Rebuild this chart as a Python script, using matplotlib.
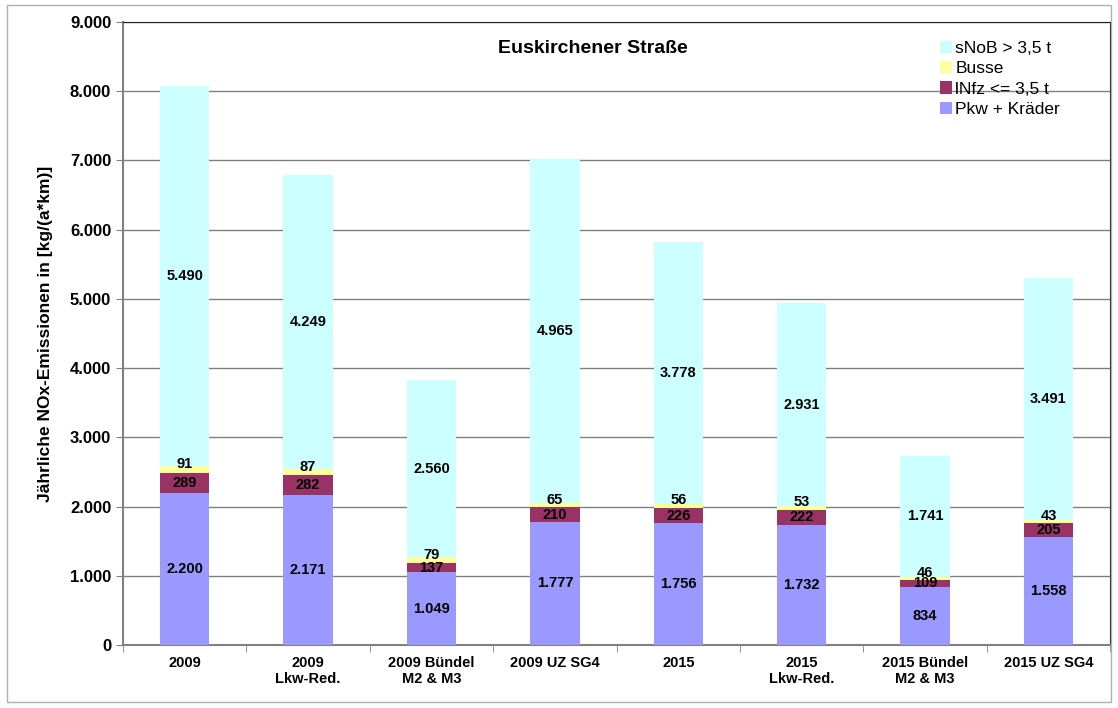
import numpy as np
import matplotlib
matplotlib.use("Agg")
import matplotlib.pyplot as plt
from matplotlib.patches import Rectangle
from matplotlib.ticker import FuncFormatter

plt.rcParams['font.family'] = ['Liberation Sans', 'DejaVu Sans']

# Data
categories = ["2009", "2009\nLkw-Red.", "2009 Bündel\nM2 & M3", "2009 UZ SG4",
              "2015", "2015\nLkw-Red.", "2015 Bündel\nM2 & M3", "2015 UZ SG4"]
pkw = [2200, 2171, 1049, 1777, 1756, 1732, 834, 1558]
lnfz = [289, 282, 137, 210, 226, 222, 109, 205]
busse = [91, 87, 79, 65, 56, 53, 46, 43]
snob = [5490, 4249, 2560, 4965, 3778, 2931, 1741, 3491]

series = [
    ("Pkw + Kräder", pkw, "#9999FF"),
    ("lNfz <= 3,5 t", lnfz, "#993366"),
    ("Busse", busse, "#FFFF99"),
    ("sNoB > 3,5 t", snob, "#CCFFFF"),
]


def de_fmt(v):
    return f"{int(v):,}".replace(",", ".")


fig = plt.figure(figsize=(11.18, 7.08), dpi=100)
ax = fig.add_axes([0.110, 0.089, 0.883, 0.880])

x = np.arange(len(categories))
bottom = np.zeros(len(categories))
handles = []
for name, vals, color in series:
    vals = np.array(vals, dtype=float)
    bars = ax.bar(x, vals, 0.4, bottom=bottom, color=color, label=name, zorder=3)
    handles.append(bars)
    # thin bus segment: lift its label a bit so it sits above the lNfz label
    dy = 4 if name == "Busse" else 0
    for xi, b, v in zip(x, bottom, vals):
        ax.annotate(de_fmt(v), (xi, b + v / 2), xytext=(0, dy),
                    textcoords="offset points", ha="center", va="center",
                    fontsize=10.5, fontweight="bold", zorder=4)
    bottom += vals

ax.set_xlim(-0.5, len(categories) - 0.5)
ax.set_ylim(0, 9000)
ax.set_yticks(np.arange(0, 9001, 1000))
ax.yaxis.set_major_formatter(FuncFormatter(lambda v, p: de_fmt(v)))
ax.set_xticks(x)
ax.set_xticklabels(categories, fontsize=10.5, fontweight="bold")
ax.set_xticks(np.arange(-0.5, len(categories), 1), minor=True)
ax.tick_params(axis="x", which="major", length=0, pad=8)
ax.tick_params(axis="x", which="minor", length=5, direction="out", color="#808080")
ax.tick_params(axis="y", length=5, direction="out", color="#808080", labelsize=12)
for lab in ax.get_yticklabels():
    lab.set_fontweight("bold")
ax.grid(axis="y", color="#808080", linewidth=1, zorder=0)

ax.spines["left"].set_color("#808080")
ax.spines["bottom"].set_color("#808080")
ax.spines["left"].set_linewidth(1.5)
ax.spines["bottom"].set_linewidth(1.5)
ax.spines["top"].set_color("#222222")
ax.spines["right"].set_color("#222222")

ax.set_ylabel("Jährliche NOx-Emissionen in [kg/(a*km)]", fontsize=12.5,
              fontweight="bold", labelpad=12)

ax.text(0.476, 0.958, "Euskirchener Straße", transform=ax.transAxes,
        ha="center", va="center", fontsize=14, fontweight="bold")

ax.legend(handles[::-1], [s[0] for s in series][::-1], loc="upper right",
          bbox_to_anchor=(0.965, 0.995), frameon=False, fontsize=12.5,
          handlelength=0.7, handleheight=0.7, handletextpad=0.2,
          labelspacing=0.3)

fig.patches.append(Rectangle((0.006, 0.008), 0.988, 0.985, transform=fig.transFigure,
                             fill=False, edgecolor="#B0B0B0", linewidth=1))

fig.savefig("out.png", dpi=100)
